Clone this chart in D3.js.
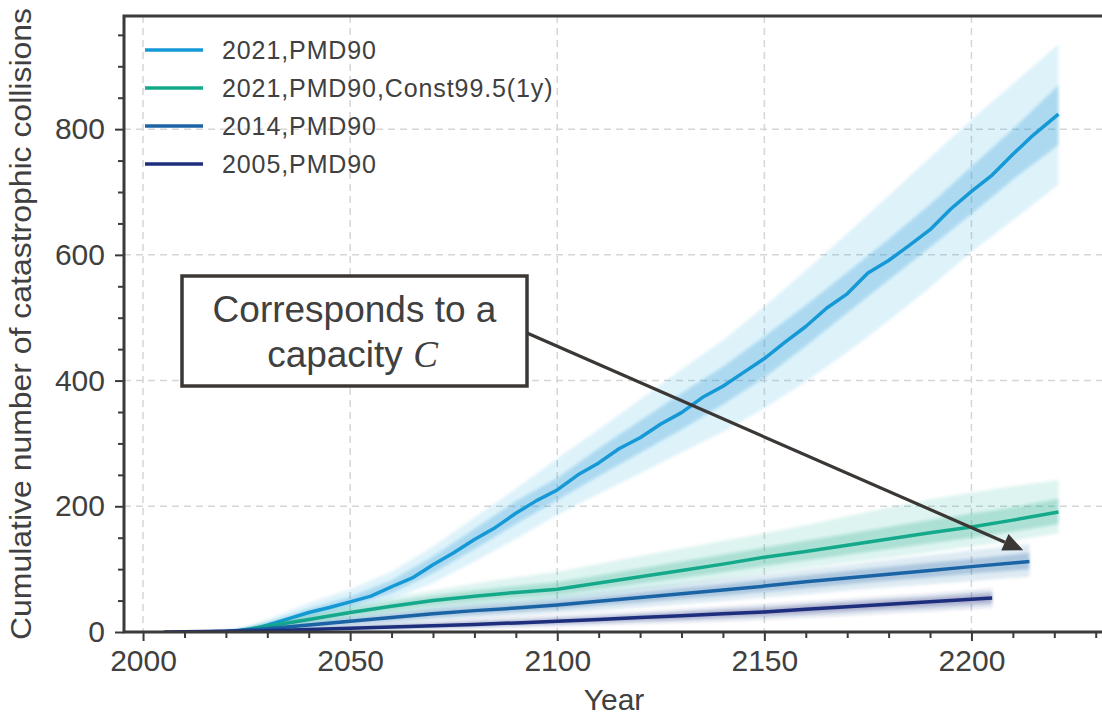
<!DOCTYPE html>
<html>
<head>
<meta charset="utf-8">
<script src="https://cdn.jsdelivr.net/npm/d3@7"></script>
<style>
  html, body { margin: 0; padding: 0; background: #fff; }
  svg { display: block; }
  text { font-family: "Liberation Sans", Arial, sans-serif; fill: #404040; }
</style>
</head>
<body>
<svg id="chart" width="1102" height="717"></svg>
<script>
// ---- Data: cumulative catastrophic collisions (ensemble mean + spread) ----
const seriesNames = ["2021,PMD90", "2021,PMD90,Const99.5(1y)", "2014,PMD90", "2005,PMD90"];
const seriesColors = ["#1498d6", "#15a98b", "#1a64a6", "#1d2e7c"];

// 2021, PMD90
const years2021 = [2021,2025,2030,2035,2040,2045,2050,2055,2060,2065,2070,2075,2080,2085,2090,2095,2100,2105,2110,2115,2120,2125,2130,2135,2140,2145,2150,2155,2160,2165,2170,2175,2180,2185,2190,2195,2200,2205,2210,2215,2221];
const mean2021 = [0,2,11,21,31,39,48,57,72,86,107,126,147,166,189,209,226,250,269,292,309,331,349,373,391,413,435,461,486,515,538,571,591,615,640,673,701,727,760,791,824];
const bandYears2021 = [2021,2030,2040,2050,2060,2070,2080,2090,2100,2110,2120,2130,2140,2150,2160,2170,2180,2190,2200,2210,2221];
const outerLo2021 = [0,4,20,35,52,78,112,148,186,220,252,286,318,356,398,445,495,548,605,655,712];
const outerHi2021 = [0,20,46,68,96,136,182,228,276,322,370,418,464,518,575,634,694,755,815,872,935];
const innerLo2021 = [0,8,25,41,62,94,132,172,210,248,285,322,362,405,455,508,560,612,665,720,775];
const innerHi2021 = [0,15,37,56,82,120,164,208,245,292,336,380,422,470,520,572,625,680,740,800,870];

// 2021, PMD90, Const99.5(1y)
const yearsConst = [2021,2030,2040,2050,2060,2070,2080,2090,2100,2110,2120,2130,2140,2150,2160,2170,2180,2190,2200,2210,2221];
const meanConst = [0,9,20,31,41,50,57,63,68,78,88,98,108,119,128,138,148,158,167,178,191];
const outerLoConst = [0,4,12,20,28,35,41,46,51,59,67,75,84,93,102,110,118,127,136,145,157];
const outerHiConst = [0,15,30,43,55,66,77,87,96,108,121,133,145,157,170,184,198,211,222,232,242];
const innerLoConst = [0,6,15,25,34,42,49,54,59,68,77,86,95,105,114,123,132,141,150,160,172];
const innerHiConst = [0,12,25,37,48,58,66,73,79,90,101,112,123,134,145,156,167,178,188,198,212];

// 2014, PMD90
const years2014 = [2014,2020,2030,2040,2050,2060,2070,2080,2090,2100,2110,2120,2130,2140,2150,2160,2170,2180,2190,2200,2214];
const mean2014 = [0,1,5,11,17,23,29,34,38,43,49,55,61,67,73,80,86,92,98,104,112];
const outerLo2014 = [0,0,2,6,9,13,18,22,26,30,34,39,44,49,55,60,66,71,76,81,88];
const outerHi2014 = [0,3,9,18,26,33,40,46,51,57,64,71,78,85,92,100,107,115,122,130,140];
const innerLo2014 = [0,0,3,8,13,18,23,28,32,36,42,47,53,58,64,70,76,82,87,93,100];
const innerHi2014 = [0,2,7,14,21,28,35,40,45,50,56,63,70,76,83,90,97,104,110,116,126];

// 2005, PMD90
const years2005 = [2005,2020,2030,2040,2050,2060,2070,2080,2090,2100,2110,2120,2130,2140,2150,2160,2170,2180,2190,2205];
const mean2005 = [0,1,2,4,6,8,10,12,14.5,17,20,23,26,29,32,36,40,44,48,54];
const outerLo2005 = [0,0,0,1,2,3,4,5,7,9,11,13,15,17,20,23,26,30,33,39];
const outerHi2005 = [0,2,5,8,11,14,17,20,23,26,29,32,36,40,44,48,52,57,61,69];
const innerLo2005 = [0,0,1,2,4,5,7,9,11,13,15,18,20,23,26,29,33,37,40,46];
const innerHi2005 = [0,1,4,6,8,11,13,16,18,21,24,28,31,35,38,43,47,51,55,62];

const xMajorTicks = [2000, 2050, 2100, 2150, 2200];
const yMajorTicks = [0, 200, 400, 600, 800];
const xLabel = "Year";
const yLabel = "Cumulative number of catastrophic collisions";
const annotationLines = ["Corresponds to a", "capacity "];
const annotationSymbol = "C";
const annotationTarget = [2212.5, 130];   // end of the 2014 ensemble

// Build series records from the arrays above
function zip(years, vals) { return years.map((y, i) => [y, vals[i]]); }
function band(years, lo, hi) { return years.map((y, i) => ({ x: y, lo: lo[i], hi: hi[i] })); }
const series = [
  { name: seriesNames[0], color: seriesColors[0], mean: zip(years2021, mean2021),
    outer: band(bandYears2021, outerLo2021, outerHi2021), inner: band(bandYears2021, innerLo2021, innerHi2021) },
  { name: seriesNames[1], color: seriesColors[1], mean: zip(yearsConst, meanConst),
    outer: band(yearsConst, outerLoConst, outerHiConst), inner: band(yearsConst, innerLoConst, innerHiConst) },
  { name: seriesNames[2], color: seriesColors[2], mean: zip(years2014, mean2014),
    outer: band(years2014, outerLo2014, outerHi2014), inner: band(years2014, innerLo2014, innerHi2014) },
  { name: seriesNames[3], color: seriesColors[3], mean: zip(years2005, mean2005),
    outer: band(years2005, outerLo2005, outerHi2005), inner: band(years2005, innerLo2005, innerHi2005) }
];

// ---- Layout ----
const svg = d3.select("#chart");
const plot = { left: 124, top: 16, right: 1104, bottom: 632 };

const x = d3.scaleLinear().domain([1995.4, 2232]).range([plot.left, plot.right]);
const y = d3.scaleLinear().domain([0, 980]).range([plot.bottom, plot.top]);

const defs = svg.append("defs");
defs.append("clipPath").attr("id", "plotClip")
  .append("rect")
  .attr("x", plot.left).attr("y", plot.top)
  .attr("width", plot.right - plot.left).attr("height", plot.bottom - plot.top);
// Soft edge for the ensemble spread (many overlapping faint runs)
defs.append("filter").attr("id", "soft").attr("x", "-5%").attr("y", "-5%")
  .attr("width", "110%").attr("height", "110%")
  .append("feGaussianBlur").attr("stdDeviation", 1.8);

// Grid
const grid = svg.append("g").attr("class", "grid");
grid.selectAll("line.gx").data(xMajorTicks).join("line")
  .attr("x1", d => x(d)).attr("x2", d => x(d))
  .attr("y1", plot.top).attr("y2", plot.bottom)
  .attr("stroke", "#d6d6d6").attr("stroke-width", 1.5).attr("stroke-dasharray", "7,5");
grid.selectAll("line.gy").data(yMajorTicks).join("line")
  .attr("x1", plot.left).attr("x2", plot.right)
  .attr("y1", d => y(d)).attr("y2", d => y(d))
  .attr("stroke", "#d6d6d6").attr("stroke-width", 1.5).attr("stroke-dasharray", "7,5");

// Ensemble bands and means
const areaGen = d3.area().x(d => x(d.x)).y0(d => y(d.lo)).y1(d => y(d.hi));
const lineGen = d3.line().x(d => x(d[0])).y(d => y(d[1]));

const data = svg.append("g").attr("clip-path", "url(#plotClip)");
series.forEach(s => {
  const g = data.append("g");
  const spread = g.append("g").attr("filter", "url(#soft)");
  spread.append("path").datum(s.outer).attr("d", areaGen)
    .attr("fill", s.color).attr("fill-opacity", 0.13);
  spread.append("path").datum(s.inner).attr("d", areaGen)
    .attr("fill", s.color).attr("fill-opacity", 0.27);
  g.append("path").datum(s.mean).attr("d", lineGen)
    .attr("fill", "none").attr("stroke", s.color)
    .attr("stroke-width", 3.5).attr("stroke-linejoin", "round");
});

// Axes
const axisColor = "#3a3a3a";
const xAxis = svg.append("g").attr("transform", `translate(0,${plot.bottom})`)
  .call(d3.axisBottom(x).tickValues(xMajorTicks).tickFormat(d3.format("d")).tickSize(9).tickPadding(9));
const xMinor = svg.append("g").attr("transform", `translate(0,${plot.bottom})`)
  .call(d3.axisBottom(x).tickValues(d3.range(2000, 2231, 10).filter(v => v % 50 !== 0)).tickSize(6).tickFormat(""));
const yAxis = svg.append("g").attr("transform", `translate(${plot.left},0)`)
  .call(d3.axisLeft(y).tickValues(yMajorTicks).tickSize(9).tickPadding(10));
const yMinor = svg.append("g").attr("transform", `translate(${plot.left},0)`)
  .call(d3.axisLeft(y).tickValues(d3.range(50, 980, 50).filter(v => v % 200 !== 0)).tickSize(6).tickFormat(""));

[xAxis, xMinor, yAxis, yMinor].forEach(a => {
  a.select(".domain").remove();
  a.selectAll(".tick line").attr("stroke", axisColor).attr("stroke-width", 2);
  a.selectAll(".tick text").attr("font-size", 30).attr("fill", "#404040")
    .attr("font-family", "Liberation Sans, Arial, sans-serif");
});

// Spines: left, bottom, top
svg.append("path")
  .attr("d", `M${plot.right + 2},${plot.top}H${plot.left}V${plot.bottom}H${plot.right + 2}`)
  .attr("fill", "none").attr("stroke", axisColor).attr("stroke-width", 3);

// Axis titles
svg.append("text").attr("x", (plot.left + plot.right) / 2).attr("y", 710)
  .attr("text-anchor", "middle").attr("font-size", 30).text(xLabel);
svg.append("text")
  .attr("transform", `translate(31,${(plot.top + plot.bottom) / 2}) rotate(-90)`)
  .attr("text-anchor", "middle").attr("font-size", 30)
  .attr("textLength", 632).attr("lengthAdjust", "spacingAndGlyphs")
  .text(yLabel);

// Legend
const legend = svg.append("g");
const legendRowY = [50, 88, 126, 164];
series.forEach((s, i) => {
  legend.append("line")
    .attr("x1", 145).attr("x2", 203).attr("y1", legendRowY[i]).attr("y2", legendRowY[i])
    .attr("stroke", s.color).attr("stroke-width", 3.5);
  legend.append("text")
    .attr("x", 222).attr("y", legendRowY[i]).attr("dy", "0.36em")
    .attr("font-size", 25).attr("letter-spacing", 0.9)
    .text(s.name);
});

// Annotation box with arrow to the 2014 ensemble end
const box = { x: 182, y: 276, w: 345, h: 110 };
const ann = svg.append("g");
const tip = [x(annotationTarget[0]), y(annotationTarget[1])];
const start = [box.x + box.w, 333];
const ang = Math.atan2(tip[1] - start[1], tip[0] - start[0]);
const headLen = 20, headHalf = 9;
const base = [tip[0] - headLen * Math.cos(ang), tip[1] - headLen * Math.sin(ang)];
ann.append("line")
  .attr("x1", start[0]).attr("y1", start[1]).attr("x2", base[0]).attr("y2", base[1])
  .attr("stroke", "#3b3735").attr("stroke-width", 3.2);
ann.append("path")
  .attr("d", `M${tip[0]},${tip[1]}` +
    `L${base[0] + headHalf * Math.sin(ang)},${base[1] - headHalf * Math.cos(ang)}` +
    `L${base[0] - headHalf * Math.sin(ang)},${base[1] + headHalf * Math.cos(ang)}Z`)
  .attr("fill", "#3b3735");
ann.append("rect")
  .attr("x", box.x).attr("y", box.y).attr("width", box.w).attr("height", box.h)
  .attr("fill", "#fff").attr("stroke", "#3b3735").attr("stroke-width", 3.5);
ann.append("text").attr("x", box.x + box.w / 2).attr("y", 322)
  .attr("text-anchor", "middle").attr("font-size", 37).attr("fill", "#3b3b3b")
  .text(annotationLines[0]);
const t2 = ann.append("text").attr("x", box.x + box.w / 2 - 2).attr("y", 367)
  .attr("text-anchor", "middle").attr("font-size", 37).attr("fill", "#3b3b3b");
t2.append("tspan").text(annotationLines[1]);
t2.append("tspan").attr("font-family", "Liberation Serif, DejaVu Serif, serif")
  .attr("font-style", "italic").text(annotationSymbol);
</script>
</body>
</html>
